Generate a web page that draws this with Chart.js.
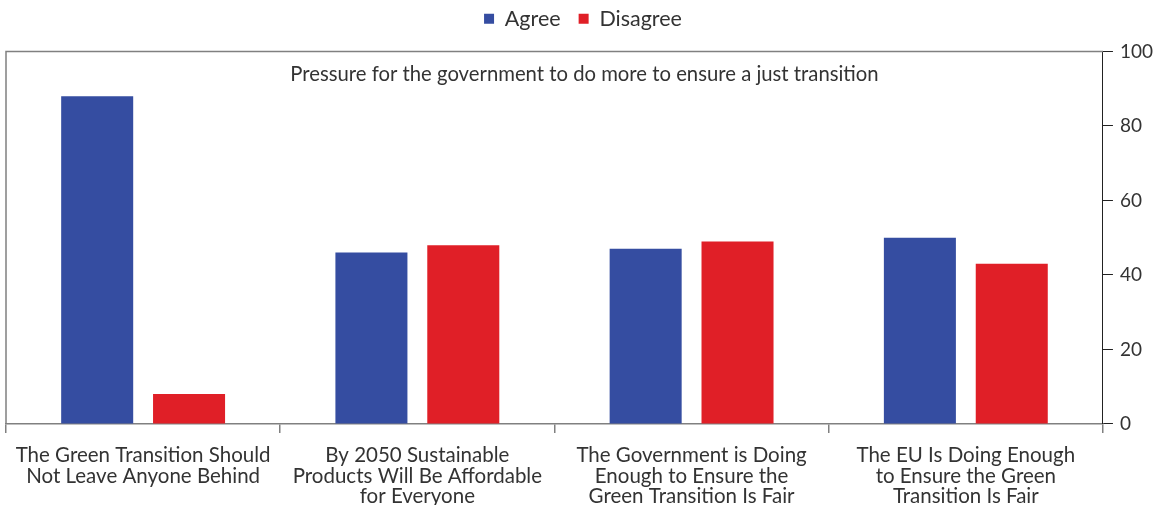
<!DOCTYPE html>
<html>
<head>
<meta charset="utf-8">
<script src="https://cdn.jsdelivr.net/npm/chart.js@4.4.1/dist/chart.umd.min.js"></script>
<style>
  html, body { margin: 0; padding: 0; background: #fff; }
  #wrap { width: 1161px; height: 505px; position: relative; }
</style>
</head>
<body>
<div id="wrap"><canvas id="chart"></canvas></div>
<script>
// Survey statements (multi-line axis labels)
const categories = [
  ["The Green Transition Should", "Not Leave Anyone Behind"],
  ["By 2050 Sustainable", "Products Will Be Affordable", "for Everyone"],
  ["The Government is Doing", "Enough to Ensure the", "Green Transition Is Fair"],
  ["The EU Is Doing Enough", "to Ensure the Green", "Transition Is Fair"]
];
// Share of respondents, %
const agree = [88, 46, 47, 50];
const disagree = [8, 48, 49, 43];
const yTicks = [0, 20, 40, 60, 80, 100];
const panelTitle = "Pressure for the government to do more to ensure a just transition";

const FONT = "Lato, 'Open Sans', sans-serif";
const TEXT = "#333333";
const FRAME = "#808080";
const LEGEND_GAP = 12; // extra space between legend and plot frame

// Adds empty space under the legend box
const legendGapPlugin = {
  id: "legendGap",
  afterInit(chart) {
    const lg = chart.legend;
    if (!lg) return;
    const fit = lg.fit;
    lg.fit = function () {
      fit.call(this);
      this.height += LEGEND_GAP;
    };
  }
};

// Draws the top/left frame of the plot and the heading inside it
const framePlugin = {
  id: "frame",
  afterDatasetsDraw(chart) {
    const { ctx, chartArea: a } = chart;
    ctx.save();
    ctx.strokeStyle = FRAME;
    ctx.lineWidth = 1.5;
    ctx.beginPath();
    ctx.moveTo(a.left, a.bottom);
    ctx.lineTo(a.left, a.top);
    ctx.lineTo(a.right, a.top);
    ctx.stroke();
    ctx.fillStyle = TEXT;
    ctx.font = "20.3px " + FONT;
    ctx.textAlign = "center";
    ctx.textBaseline = "middle";
    ctx.fillText(panelTitle, (a.left + a.right) / 2 + 30, a.top + 23);
    ctx.restore();
  }
};

new Chart(document.getElementById("chart"), {
  type: "bar",
  data: {
    labels: categories,
    datasets: [
      { label: "Agree", data: agree, backgroundColor: "#354da1" },
      { label: "Disagree", data: disagree, backgroundColor: "#e01f27" }
    ]
  },
  options: {
    responsive: true,
    maintainAspectRatio: false,
    animation: false,
    layout: { padding: { left: 6, right: 1, top: -10, bottom: -14 } },
    datasets: { bar: { categoryPercentage: 0.67, barPercentage: 0.784 } },
    plugins: {
      legend: {
        position: "top",
        labels: {
          font: { family: FONT, size: 21.5 },
          color: TEXT,
          boxWidth: 10,
          boxHeight: 10,
          padding: 18
        }
      },
      tooltip: { enabled: false }
    },
    scales: {
      x: {
        grid: {
          offset: true,
          drawOnChartArea: false,
          drawTicks: true,
          tickLength: 9,
          color: FRAME,
          lineWidth: 1.5
        },
        border: { display: true, color: FRAME, width: 1.5 },
        ticks: {
          font: { family: FONT, size: 20.5, lineHeight: 1.01 },
          color: TEXT,
          maxRotation: 0,
          autoSkip: false,
          padding: 12
        }
      },
      y: {
        position: "right",
        min: 0,
        max: 100,
        afterBuildTicks(axis) { axis.ticks = yTicks.map(v => ({ value: v })); },
        grid: {
          drawOnChartArea: false,
          drawTicks: true,
          tickLength: 10,
          color: "#222"
        },
        border: { display: true, color: "#222", width: 1 },
        ticks: {
          font: { family: FONT, size: 19 },
          color: TEXT,
          padding: 7
        }
      }
    }
  },
  plugins: [legendGapPlugin, framePlugin]
});
</script>
</body>
</html>
